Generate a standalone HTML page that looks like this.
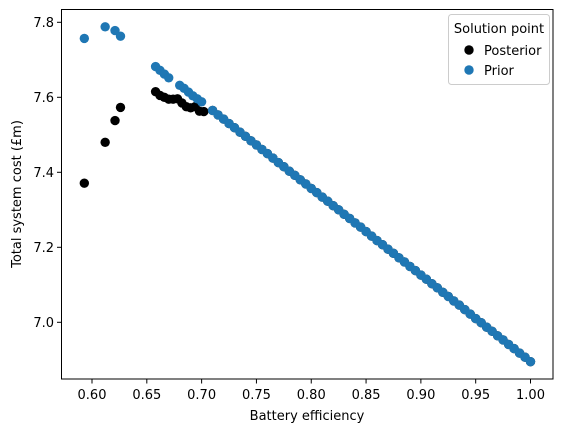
<!DOCTYPE html>
<html><head><meta charset="utf-8"><style>
body{margin:0;background:#fff;}
svg{display:block;font-family:"DejaVu Sans","Liberation Sans",sans-serif;}
</style></head><body>
<svg id="chart" width="567" height="432" viewBox="0 0 567 432">
<g id="marks"></g>
<rect x="61.5" y="9.5" width="491.5" height="369.5" fill="none" stroke="#000" stroke-width="1"/>
<g id="xticks"></g>
<g id="yticks"></g>
<text x="307" y="420" font-size="13" text-anchor="middle">Battery efficiency</text>
<text transform="translate(21,194) rotate(-90)" font-size="13" text-anchor="middle">Total system cost (£m)</text>
<g>
<rect x="448.5" y="14.5" width="101" height="70" rx="3" fill="#fff" fill-opacity="0.8" stroke="#ccc"/>
<text x="499" y="33" font-size="13" text-anchor="middle">Solution point</text>
<circle cx="469" cy="50" r="4.7" fill="#000"/>
<text x="484" y="55" font-size="13">Posterior</text>
<circle cx="469" cy="70" r="4.7" fill="#1f77b4"/>
<text x="484" y="75" font-size="13">Prior</text>
</g>
</svg>
<script>
const xTicks=[0.60,0.65,0.70,0.75,0.80,0.85,0.90,0.95,1.00];
const xTickLabels=["0.60","0.65","0.70","0.75","0.80","0.85","0.90","0.95","1.00"];
const yTicks=[7.0,7.2,7.4,7.6,7.8];
const yTickLabels=["7.0","7.2","7.4","7.6","7.8"];
const lineX=[0.71,0.715,0.72,0.725,0.73,0.735,0.74,0.745,0.75,0.755,0.76,0.765,0.77,0.775,0.78,0.785,0.79,0.795,0.80,0.805,0.81,0.815,0.82,0.825,0.83,0.835,0.84,0.845,0.85,0.855,0.86,0.865,0.87,0.875,0.88,0.885,0.89,0.895,0.90,0.905,0.91,0.915,0.92,0.925,0.93,0.935,0.94,0.945,0.95,0.955,0.96,0.965,0.97,0.975,0.98,0.985,0.99,0.995,1.00];
const lineY=[7.565,7.553,7.542,7.530,7.519,7.507,7.496,7.484,7.473,7.461,7.450,7.438,7.426,7.415,7.403,7.392,7.380,7.369,7.357,7.346,7.334,7.323,7.311,7.300,7.288,7.277,7.265,7.254,7.242,7.230,7.218,7.207,7.195,7.184,7.172,7.161,7.149,7.138,7.126,7.115,7.103,7.092,7.080,7.069,7.057,7.046,7.034,7.022,7.010,6.999,6.987,6.976,6.964,6.953,6.941,6.930,6.918,6.907,6.895];
const posteriorX=[0.593,0.612,0.621,0.626,0.658,0.662,0.666,0.670,0.674,0.678,0.682,0.686,0.690,0.694,0.698,0.702];
const posteriorY=[7.371,7.480,7.538,7.573,7.615,7.605,7.600,7.595,7.595,7.596,7.585,7.575,7.572,7.575,7.563,7.562];
const priorX=[0.593,0.612,0.621,0.626,0.658,0.662,0.666,0.670,0.680,0.684,0.688,0.692,0.696,0.700];
const priorY=[7.757,7.788,7.778,7.763,7.682,7.672,7.662,7.652,7.632,7.624,7.614,7.604,7.596,7.588];
const NS='http://www.w3.org/2000/svg';
function sx(v){return 92+(v-0.6)*1096.25;}
function sy(v){return 22.3+(7.8-v)*375;}
const marks=document.getElementById('marks');
function dot(x,y,c,name){
  const el=document.createElementNS(NS,'circle');
  el.setAttribute('cx',sx(x));el.setAttribute('cy',sy(y));el.setAttribute('r',4.7);el.setAttribute('fill',c);
  
  
  marks.appendChild(el);
}
posteriorX.forEach((x,i)=>dot(x,posteriorY[i],'#000','posterior-point'));
lineX.forEach((x,i)=>dot(x,lineY[i],'#000','posterior-point'));
priorX.forEach((x,i)=>dot(x,priorY[i],'#1f77b4','prior-point'));
lineX.forEach((x,i)=>dot(x,lineY[i],'#1f77b4','prior-point'));
const xg=document.getElementById('xticks');
xTicks.forEach((v,i)=>{
  const l=document.createElementNS(NS,'line');
  l.setAttribute('x1',sx(v));l.setAttribute('x2',sx(v));l.setAttribute('y1',379);l.setAttribute('y2',383.5);l.setAttribute('stroke','#000');
  
  
  xg.appendChild(l);
  const t=document.createElementNS(NS,'text');
  t.setAttribute('x',sx(v));t.setAttribute('y',399);t.setAttribute('font-size','13');t.setAttribute('text-anchor','middle');
  t.textContent=xTickLabels[i];
  
  
  xg.appendChild(t);
});
const yg=document.getElementById('yticks');
yTicks.forEach((v,i)=>{
  const l=document.createElementNS(NS,'line');
  l.setAttribute('x1',57);l.setAttribute('x2',61.5);l.setAttribute('y1',sy(v));l.setAttribute('y2',sy(v));l.setAttribute('stroke','#000');
  
  
  yg.appendChild(l);
  const t=document.createElementNS(NS,'text');
  t.setAttribute('x',54);t.setAttribute('y',sy(v)+4.5);t.setAttribute('font-size','13');t.setAttribute('text-anchor','end');
  t.textContent=yTickLabels[i];
  
  
  yg.appendChild(t);
});
</script>
</body></html>
